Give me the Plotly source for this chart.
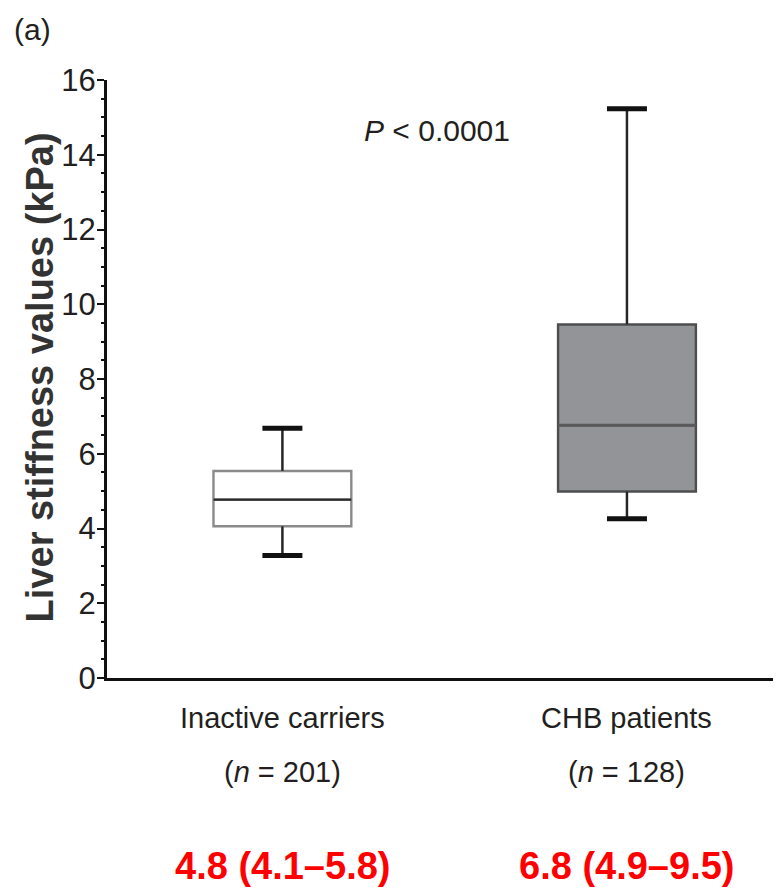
import plotly.graph_objects as go

# ---- data ----
categories = ["Inactive carriers", "CHB patients"]
n_values = [201, 128]
lower_whisker = [3.28, 4.26]
q1_values = [4.06, 4.99]
median_values = [4.77, 6.76]
q3_values = [5.54, 9.46]
upper_whisker = [6.68, 15.23]
summary_labels = ["4.8 (4.1\u20135.8)", "6.8 (4.9\u20139.5)"]
y_ticks = [0, 2, 4, 6, 8, 10, 12, 14, 16]

FONT = "Liberation Sans, Arial, Helvetica, sans-serif"
TXT = "#231f20"

box_fill = ["#ffffff", "#929497"]
box_line = ["#8a8a8a", "#4d4d4d"]
median_col = ["#2b2b2b", "#5a5a5a"]
median_w = [2.2, 3]
box_w = 0.4
cap_half = 0.058

x_pos = list(range(len(categories)))

fig = go.Figure()
for i in x_pos:
    fig.add_trace(go.Box(
        x=[x_pos[i]], q1=[q1_values[i]], median=[median_values[i]], q3=[q3_values[i]],
        lowerfence=[lower_whisker[i]], upperfence=[upper_whisker[i]],
        width=box_w, whiskerwidth=0, fillcolor=box_fill[i],
        line=dict(color=box_line[i], width=2.4), boxpoints=False, showlegend=False,
        hoverinfo="skip"))
    fig.add_trace(go.Scatter(x=[x_pos[i], x_pos[i]], y=[q3_values[i], upper_whisker[i]], mode="lines",
                             line=dict(color="#262626", width=2.2), showlegend=False, hoverinfo="skip"))
    fig.add_trace(go.Scatter(x=[x_pos[i], x_pos[i]], y=[lower_whisker[i], q1_values[i]], mode="lines",
                             line=dict(color="#262626", width=2.2), showlegend=False, hoverinfo="skip"))
    for v in (upper_whisker[i], lower_whisker[i]):
        fig.add_trace(go.Scatter(x=[x_pos[i] - cap_half, x_pos[i] + cap_half], y=[v, v], mode="lines",
                                 line=dict(color="#111111", width=5), showlegend=False, hoverinfo="skip"))
    fig.add_trace(go.Scatter(x=[x_pos[i] - box_w / 2, x_pos[i] + box_w / 2],
                             y=[median_values[i], median_values[i]], mode="lines",
                             line=dict(color=median_col[i], width=median_w[i]), showlegend=False,
                             hoverinfo="skip"))

fig.update_layout(
    width=781, height=888,
    margin=dict(l=99, r=8, t=72, b=218),
    plot_bgcolor="white", paper_bgcolor="white",
    font=dict(family=FONT, size=30, color=TXT),
    xaxis=dict(range=[-0.509, 1.447], tickvals=x_pos, ticktext=["", ""],
               showline=True, linecolor="#111111", linewidth=3, ticks="",
               showgrid=False, zeroline=False, automargin=False),
    yaxis=dict(range=[0, 16], tickvals=y_ticks, showline=True, linecolor="#111111", linewidth=3,
               ticks="outside", ticklen=7, tickwidth=2, tickcolor="#111111",
               minor=dict(dtick=0.5, ticks="outside", ticklen=3, tickwidth=1.5, tickcolor="#111111"),
               showgrid=False, zeroline=False, automargin=False, ticklabelstandoff=-5,
               tickfont=dict(family=FONT, size=31, color=TXT)),
)

# y-axis title
fig.add_annotation(text="Liver stiffness values (kPa)", xref="paper", yref="paper",
                   x=-0.1, y=0.502, xanchor="center", yanchor="middle", textangle=-90,
                   showarrow=False, font=dict(family=FONT, size=38, color="#333333", weight="bold"))
# category labels
for i in x_pos:
    fig.add_annotation(text=categories[i], x=x_pos[i], xref="x", yref="paper", y=-0.0669,
                       yanchor="middle", showarrow=False, font=dict(family=FONT, size=29, color=TXT))
    fig.add_annotation(text=f"(<i>n</i> = {n_values[i]})", x=x_pos[i], xref="x", yref="paper",
                       y=-0.157, yanchor="middle", showarrow=False,
                       font=dict(family=FONT, size=29, color=TXT))
    fig.add_annotation(text=f"<b>{summary_labels[i]}</b>", x=x_pos[i], xref="x", yref="paper",
                       y=-0.314, yanchor="middle", showarrow=False,
                       font=dict(family=FONT, size=38, color="#ff0000"))

fig.add_annotation(text="<i>P</i> < 0.0001", xref="paper", yref="paper", x=0.4896, y=0.916,
                   xanchor="center", yanchor="middle", showarrow=False,
                   font=dict(family=FONT, size=30, color=TXT))
fig.add_annotation(text="(a)", xref="paper", yref="paper", x=-0.141, y=1.085, xanchor="left",
                   yanchor="middle", showarrow=False, font=dict(family=FONT, size=30, color=TXT))

fig.write_html("out.html")
